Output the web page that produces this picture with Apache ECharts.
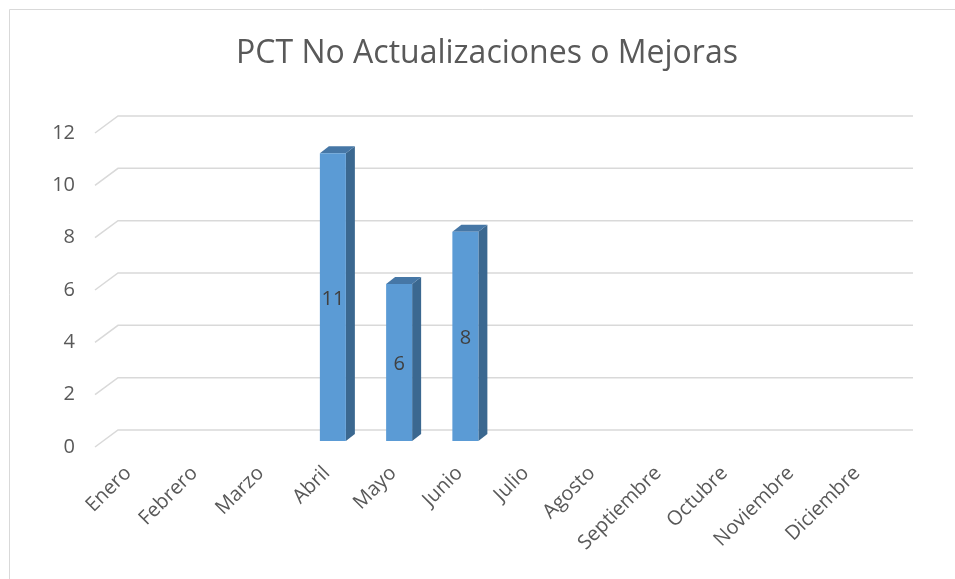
<!DOCTYPE html>
<html>
<head>
<meta charset="utf-8">
<script src="https://cdn.jsdelivr.net/npm/echarts@6/dist/echarts.min.js"></script>
<style>
  html, body { margin: 0; padding: 0; background: #fff; }
  #chart { width: 955px; height: 579px; }
</style>
</head>
<body>
<div id="chart"></div>
<script>
const titleText = 'PCT No Actualizaciones o Mejoras';
const months = ['Enero', 'Febrero', 'Marzo', 'Abril', 'Mayo', 'Junio', 'Julio',
  'Agosto', 'Septiembre', 'Octubre', 'Noviembre', 'Diciembre'];
const values = [null, null, null, 11, 6, 8, null, null, null, null, null, null];
const yTicks = [0, 2, 4, 6, 8, 10, 12];

// 3D look: back wall offset and bar depth offsets (pixels)
const WALL_DX = 23, WALL_DY = -17;
const BAR_SHIFT_X = 6, BAR_SHIFT_Y = -6;
const BAR_W = 26, BAR_DX = 9, BAR_DY = -7;

const FONT = 'Open Sans';
const chart = echarts.init(document.getElementById('chart'), null, { renderer: 'canvas' });

chart.setOption({
  animation: false,
  backgroundColor: '#fff',
  graphic: [
    {
      type: 'rect',
      shape: { x: 9.5, y: 9.5, width: 1000, height: 1000 },
      style: { fill: 'none', stroke: '#d9d9d9', lineWidth: 1 },
      silent: true
    },
    {
      type: 'text',
      x: 487, y: 54,
      style: { text: titleText, fontFamily: FONT, fontSize: 32, fill: '#595959',
               align: 'center', verticalAlign: 'middle' },
      silent: true
    }
  ],
  grid: { left: 95, top: 133, width: 795, height: 314 },
  xAxis: {
    type: 'category',
    data: months,
    axisLine: { show: false },
    axisTick: { show: false },
    axisLabel: {
      rotate: 45, interval: 0, margin: 23,
      fontFamily: FONT, fontSize: 20, color: '#595959'
    }
  },
  yAxis: {
    type: 'value',
    min: 0, max: 12, interval: 2,
    axisLine: { show: false },
    axisTick: { show: false },
    splitLine: { show: false },
    axisLabel: { margin: 20, fontFamily: FONT, fontSize: 20, color: '#595959' }
  },
  series: [
    {
      // gridlines: a short diagonal on the floor edge, then along the back wall
      type: 'custom',
      silent: true,
      z: 1,
      data: yTicks.map(v => [0, v]),
      renderItem: function (params, api) {
        const v = api.value(1);
        const p0 = api.coord([0, v]);
        const cs = params.coordSys;
        const x0 = cs.x, x1 = cs.x + cs.width;
        const y = p0[1];
        return {
          type: 'polyline',
          shape: { points: [[x0, y], [x0 + WALL_DX, y + WALL_DY], [x1 + WALL_DX, y + WALL_DY]] },
          style: { stroke: '#d9d9d9', lineWidth: 1.5, fill: 'none' }
        };
      }
    },
    {
      type: 'custom',
      z: 3,
      data: values.map((v, i) => [i, v]),
      renderItem: function (params, api) {
        const v = api.value(1);
        if (v === null || v === undefined || isNaN(v)) return null;
        const top = api.coord([api.value(0), v]);
        const base = api.coord([api.value(0), 0]);
        const cx = top[0] + BAR_SHIFT_X;
        const x0 = cx - BAR_W / 2, x1 = cx + BAR_W / 2;
        const yt = top[1] + BAR_SHIFT_Y, yb = base[1] + BAR_SHIFT_Y;
        return {
          type: 'group',
          children: [
            { type: 'polygon', shape: { points: [[x1, yt], [x1 + BAR_DX, yt + BAR_DY], [x1 + BAR_DX, yb + BAR_DY], [x1, yb]] },
              style: { fill: '#3b6890' } },
            { type: 'polygon', shape: { points: [[x0, yt], [x0 + BAR_DX, yt + BAR_DY], [x1 + BAR_DX, yt + BAR_DY], [x1, yt]] },
              style: { fill: '#4677a6' } },
            { type: 'rect', shape: { x: x0, y: yt, width: BAR_W, height: yb - yt },
              style: { fill: '#5b9bd5' } },
            { type: 'text', x: cx, y: (yt + yb) / 2 + 2,
              style: { text: String(v), fill: '#404040', fontFamily: FONT, fontSize: 20,
                       align: 'center', verticalAlign: 'middle' } }
          ]
        };
      }
    }
  ]
});
</script>
</body>
</html>
